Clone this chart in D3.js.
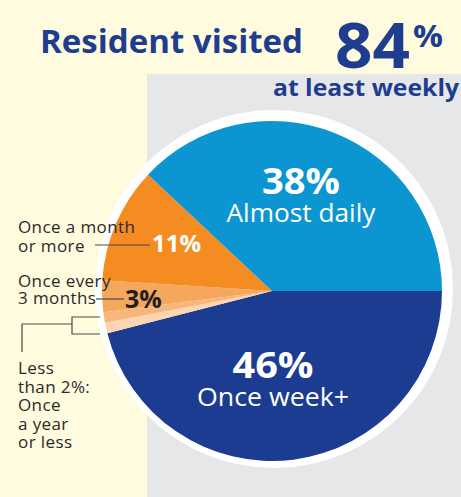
<!DOCTYPE html>
<html>
<head>
<meta charset="utf-8">
<script src="https://cdn.jsdelivr.net/npm/d3@7"></script>
<style>
  html, body { margin: 0; padding: 0; background: #fefbdf; }
  svg { display: block; font-family: "Open Sans", sans-serif; }
</style>
</head>
<body>
<div id="chart"></div>
<script>
// slices in clockwise order, starting at 3 o'clock
const categories = ["Once week+", "Once a year or less", "Less than 2% (other)", "Once every 3 months", "Once a month or more", "Almost daily"];
const values = [46, 1, 1, 3, 11, 38];
const colors = ["#1c3c92", "#fdd5b0", "#f9b67c", "#f6a75e", "#f58c21", "#0b96d2"];

const width = 461, height = 497;
const cx = 272, cy = 291, radius = 170;

const svg = d3.select('#chart')
  .append('svg')
  .attr('width', width)
  .attr('height', height);

// backgrounds
svg.append('rect').attr('width', width).attr('height', height).attr('fill', '#fefbdf');
svg.append('rect')
  .attr('x', 147).attr('y', 74)
  .attr('width', width - 147).attr('height', height - 74)
  .attr('fill', '#e6e7e9');

// white ring behind the pie
svg.append('circle')
  .attr('cx', cx + 2).attr('cy', cy - 2)
  .attr('r', radius + 9)
  .attr('fill', '#ffffff');

const pie = d3.pie()
  .sort(null)
  .value(d => d)
  .startAngle(Math.PI / 2)
  .endAngle(Math.PI / 2 + 2 * Math.PI);

const arc = d3.arc().innerRadius(0).outerRadius(radius);

const g = svg.append('g').attr('transform', `translate(${cx},${cy})`);

g.selectAll('path')
  .data(pie(values))
  .join('path')
  .attr('d', arc)
  .attr('fill', (d, i) => colors[i]);

// header
const navy = '#1f3d8f';
svg.append('text')
  .attr('x', 40).attr('y', 53)
  .attr('font-size', 33).attr('font-weight', 700)
  .attr('fill', navy)
  .attr('textLength', 263).attr('lengthAdjust', 'spacingAndGlyphs')
  .text('Resident visited');

svg.append('text')
  .attr('x', 335).attr('y', 68)
  .attr('font-size', 63).attr('font-weight', 700)
  .attr('fill', navy)
  .attr('textLength', 75).attr('lengthAdjust', 'spacingAndGlyphs')
  .text('84');

svg.append('text')
  .attr('x', 413).attr('y', 47)
  .attr('font-size', 30).attr('font-weight', 700)
  .attr('fill', navy)
  .attr('textLength', 30).attr('lengthAdjust', 'spacingAndGlyphs')
  .text('%');

svg.append('text')
  .attr('x', 273).attr('y', 96)
  .attr('font-size', 24).attr('font-weight', 700)
  .attr('fill', navy)
  .attr('textLength', 186).attr('lengthAdjust', 'spacingAndGlyphs')
  .text('at least weekly');

// in-slice labels
function inLabel(x, y, pct, name, pctW, nameW) {
  svg.append('text')
    .attr('x', x - pctW / 2).attr('y', y)
    .attr('font-size', 35).attr('font-weight', 700)
    .attr('fill', '#fff')
    .attr('textLength', pctW).attr('lengthAdjust', 'spacingAndGlyphs')
    .text(pct);
  svg.append('text')
    .attr('x', x - nameW / 2).attr('y', y + 28)
    .attr('font-size', 25)
    .attr('fill', '#fff')
    .attr('textLength', nameW).attr('lengthAdjust', 'spacingAndGlyphs')
    .text(name);
}
inLabel(301, 194, values[5] + '%', categories[5], 78, 149);
inLabel(273, 378, values[0] + '%', categories[0], 81, 152);

svg.append('text')
  .attr('x', 152).attr('y', 252)
  .attr('font-size', 24).attr('font-weight', 700)
  .attr('fill', '#fff')
  .text(values[4] + '%');

svg.append('text')
  .attr('x', 125).attr('y', 308)
  .attr('font-size', 25).attr('font-weight', 700)
  .attr('fill', '#231f20')
  .text(values[3] + '%');

// side labels
const labelColor = '#2b2a29';
function sideText(lines, x, y, lh) {
  lines.forEach((l, i) => {
    svg.append('text')
      .attr('x', x).attr('y', y + i * lh)
      .attr('font-size', 17)
      .attr('letter-spacing', 0.4)
      .attr('fill', labelColor)
      .text(l);
  });
}
sideText(['Once a month', 'or more'], 18, 233, 19);
sideText(['Once every', '3 months'], 18, 287, 16.5);
sideText(['Less', 'than 2%:', 'Once', 'a year', 'or less'], 18, 374, 18.5);

// leader lines
const line = d3.line();
const leaders = [
  [[95, 245], [150, 245]],
  [[96, 299], [124, 299]],
  [[100, 317], [72, 317], [72, 334], [100, 334]],
  [[72, 324], [22, 324], [22, 352]]
];
svg.selectAll('path.leader')
  .data(leaders)
  .join('path')
  .attr('class', 'leader')
  .attr('d', line)
  .attr('fill', 'none')
  .attr('stroke', '#4a4a4a')
  .attr('stroke-width', 1.2);
</script>
</body>
</html>
